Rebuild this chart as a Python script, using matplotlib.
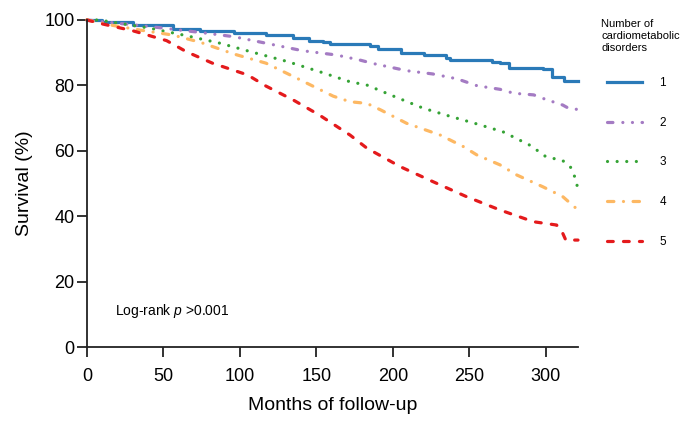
import matplotlib
matplotlib.use("Agg")
from matplotlib import pyplot as plt

plt.rcParams['font.family'] = ['Liberation Sans', 'DejaVu Sans']
plt.rcParams['mathtext.fontset'] = 'custom'
plt.rcParams['mathtext.it'] = 'Liberation Sans:italic'
plt.rcParams['mathtext.rm'] = 'Liberation Sans'

# survival curves (months, %)
t1 = [0, 10, 30, 56, 74, 96, 117, 135, 145, 154, 159, 185, 190, 205, 220, 235, 237, 265, 270, 276, 298, 304, 311, 312, 321]
s1 = [100, 99.3, 98.5, 97.2, 96.7, 95.9, 95.3, 94.4, 93.7, 93.2, 92.6, 92.1, 91.1, 90.0, 89.2, 88.3, 87.8, 87.3, 86.7, 85.4, 85.0, 82.7, 82.7, 81.3, 81.3]

t2 = [0, 20, 41, 74, 96, 117, 141, 163, 178, 187, 209, 226, 242, 255, 270, 279, 292, 300, 311, 316, 321]
s2 = [100, 99.0, 98.0, 96.2, 94.9, 92.9, 90.6, 89.3, 87.8, 86.7, 84.5, 83.5, 82.0, 79.9, 78.8, 77.6, 77.1, 75.7, 74.0, 72.7, 72.7]

t3 = [0, 8, 41, 63, 87, 107, 131, 154, 172, 183, 202, 220, 237, 255, 272, 290, 300, 311, 316, 318, 320, 321]
s3 = [100, 100, 97.5, 95.4, 92.9, 90.3, 87.3, 83.9, 81.1, 80.1, 76.4, 73.0, 70.6, 68.2, 65.8, 61.6, 58.2, 57.0, 55.1, 53.1, 50.6, 47.5]

t4 = [0, 15, 35, 56, 74, 96, 117, 135, 161, 172, 183, 192, 209, 231, 246, 255, 270, 281, 298, 311, 321]
s4 = [100, 98.5, 96.9, 95.4, 93.2, 89.6, 86.8, 82.7, 76.7, 75.0, 74.5, 72.5, 68.4, 64.8, 61.3, 58.7, 55.7, 52.6, 49.0, 46.0, 41.9]

t5 = [0, 10, 30, 52, 65, 82, 105, 117, 135, 152, 172, 183, 205, 226, 248, 270, 292, 307, 311, 313, 321]
s5 = [100, 98.8, 96.7, 93.7, 90.3, 86.8, 83.2, 79.8, 75.5, 70.9, 64.8, 60.8, 55.1, 50.6, 46.0, 41.9, 38.3, 37.3, 34.8, 32.7, 32.7]

labels = ['1', '2', '3', '4', '5']
xticks = [0, 50, 100, 150, 200, 250, 300]
yticks = [0, 20, 40, 60, 80, 100]

fig = plt.figure(figsize=(6.92, 4.26), dpi=100)
ax = fig.add_axes([87/692, 79/426, 491/692, 327/426])

lw = 2.3
ax.plot(t1, s1, color='#2a7ab8', lw=lw, drawstyle='steps-post', label=labels[0], clip_on=False)
ax.plot(t2, s2, color='#a47bc3', lw=lw, dashes=(1.7, 3.1, 0.01, 3, 0.01, 3),
        dash_capstyle='round', label=labels[1], clip_on=False)
ax.plot(t3, s3, color='#35a335', lw=lw, dashes=(0.01, 3), dash_capstyle='round',
        label=labels[2], clip_on=False)
ax.plot(t4, s4, color='#fdb863', lw=lw, dashes=(2, 3, 0.01, 3), dash_capstyle='round',
        label=labels[3], clip_on=False)
ax.plot(t5, s5, color='#e41a1c', lw=lw, dashes=(1.8, 3.2), dash_capstyle='round',
        label=labels[4], clip_on=False)

ax.set_xlim(0, 321)
ax.set_ylim(0, 100)
ax.set_xticks(xticks)
ax.set_yticks(yticks)
ax.spines['top'].set_visible(False)
ax.spines['right'].set_visible(False)
for s in ['left', 'bottom']:
    ax.spines[s].set_linewidth(1.3)
    ax.spines[s].set_color('#222222')
ax.tick_params(direction='out', length=7, width=1.3, labelsize=13, color='#222222')
ax.tick_params(axis='x', pad=8)
ax.tick_params(axis='y', pad=2)
ax.set_xlabel('Months of follow-up', fontsize=14, labelpad=9)
ax.set_ylabel('Survival (%)', fontsize=14, labelpad=8)

ax.text(18.3, 11, 'Log-rank $\\mathit{p}$ >0.001', fontsize=10, va='center')

fig.text(601/692, 1 - 19/426, 'Number of\ncardiometabolic\ndisorders',
         fontsize=8, va='top', ha='left', linespacing=1.25)
leg = ax.legend(loc='upper left', bbox_to_anchor=(607/692, 1 - 77/426),
                bbox_transform=fig.transFigure, frameon=False, fontsize=8.5,
                borderpad=0, borderaxespad=0, handlelength=3.0, handletextpad=1.45,
                labelspacing=2.35)

fig.savefig('out.png', dpi=100)
